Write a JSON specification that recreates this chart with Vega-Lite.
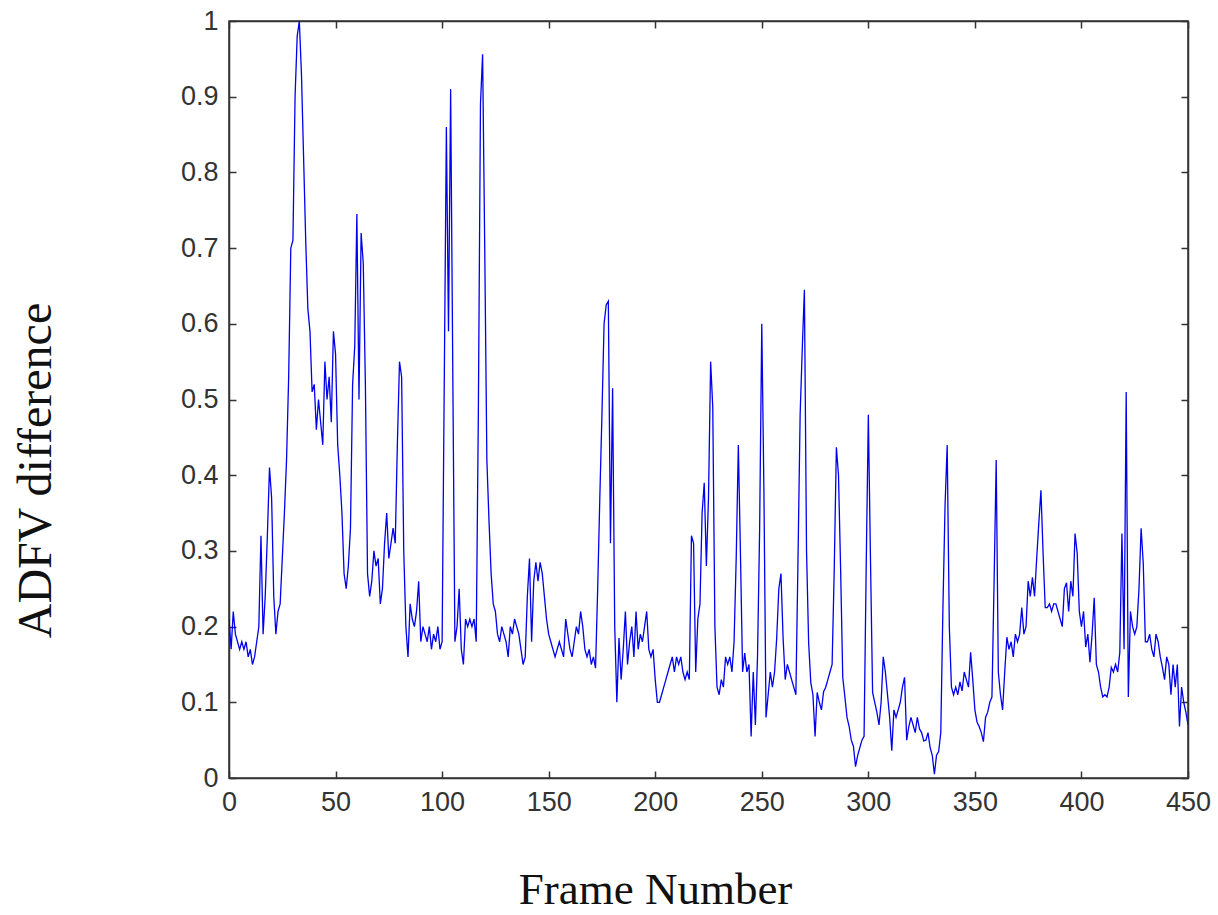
{
  "$schema": "https://vega.github.io/schema/vega-lite/v6.json",
  "width": 959,
  "height": 757,
  "autosize": "none",
  "padding": {"left": 229, "top": 21, "right": 30, "bottom": 137},
  "background": "white",
  "config": {
    "view": {"stroke": "#333333", "strokeWidth": 1.5},
    "axis": {
      "grid": false,
      "domainColor": "#333333",
      "domainWidth": 1.5,
      "tickColor": "#333333",
      "tickWidth": 1.5,
      "tickSize": -7,
      "labelFont": "Liberation Sans, Arial, sans-serif",
      "labelFontSize": 27,
      "labelColor": "#333333"
    }
  },
  "data": {
    "values": [
      {"f":0,"v":0.21},{"f":1,"v":0.17},{"f":2,"v":0.22},{"f":3,"v":0.19},{"f":4,"v":0.18},{"f":5,"v":0.17},{"f":6,"v":0.18},{"f":7,"v":0.17},{"f":8,"v":0.18},{"f":9,"v":0.16},
      {"f":10,"v":0.17},{"f":11,"v":0.15},{"f":12,"v":0.16},{"f":13,"v":0.18},{"f":14,"v":0.2},{"f":15,"v":0.32},{"f":16,"v":0.19},{"f":17,"v":0.24},{"f":18,"v":0.32},{"f":19,"v":0.41},
      {"f":20,"v":0.37},{"f":21,"v":0.24},{"f":22,"v":0.19},{"f":23,"v":0.22},{"f":24,"v":0.23},{"f":25,"v":0.29},{"f":26,"v":0.35},{"f":27,"v":0.42},{"f":28,"v":0.53},{"f":29,"v":0.7},
      {"f":30,"v":0.71},{"f":31,"v":0.9},{"f":32,"v":0.98},{"f":33,"v":1.0},{"f":34,"v":0.93},{"f":35,"v":0.82},{"f":36,"v":0.71},{"f":37,"v":0.62},{"f":38,"v":0.59},{"f":39,"v":0.51},
      {"f":40,"v":0.52},{"f":41,"v":0.46},{"f":42,"v":0.5},{"f":43,"v":0.47},{"f":44,"v":0.44},{"f":45,"v":0.55},{"f":46,"v":0.5},{"f":47,"v":0.53},{"f":48,"v":0.47},{"f":49,"v":0.59},
      {"f":50,"v":0.56},{"f":51,"v":0.44},{"f":52,"v":0.4},{"f":53,"v":0.35},{"f":54,"v":0.27},{"f":55,"v":0.25},{"f":56,"v":0.28},{"f":57,"v":0.33},{"f":58,"v":0.52},{"f":59,"v":0.57},
      {"f":60,"v":0.745},{"f":61,"v":0.5},{"f":62,"v":0.72},{"f":63,"v":0.68},{"f":64,"v":0.52},{"f":65,"v":0.27},{"f":66,"v":0.24},{"f":67,"v":0.26},{"f":68,"v":0.3},{"f":69,"v":0.28},
      {"f":70,"v":0.29},{"f":71,"v":0.23},{"f":72,"v":0.25},{"f":73,"v":0.31},{"f":74,"v":0.35},{"f":75,"v":0.29},{"f":76,"v":0.31},{"f":77,"v":0.33},{"f":78,"v":0.31},{"f":79,"v":0.44},
      {"f":80,"v":0.55},{"f":81,"v":0.53},{"f":82,"v":0.3},{"f":83,"v":0.2},{"f":84,"v":0.16},{"f":85,"v":0.23},{"f":86,"v":0.21},{"f":87,"v":0.2},{"f":88,"v":0.22},{"f":89,"v":0.26},
      {"f":90,"v":0.18},{"f":91,"v":0.2},{"f":92,"v":0.19},{"f":93,"v":0.18},{"f":94,"v":0.2},{"f":95,"v":0.17},{"f":96,"v":0.19},{"f":97,"v":0.18},{"f":98,"v":0.2},{"f":99,"v":0.17},
      {"f":100,"v":0.18},{"f":101,"v":0.52},{"f":102,"v":0.86},{"f":103,"v":0.59},{"f":104,"v":0.91},{"f":105,"v":0.54},{"f":106,"v":0.18},{"f":107,"v":0.2},{"f":108,"v":0.25},{"f":109,"v":0.17},
      {"f":110,"v":0.15},{"f":111,"v":0.21},{"f":112,"v":0.2},{"f":113,"v":0.21},{"f":114,"v":0.2},{"f":115,"v":0.21},{"f":116,"v":0.18},{"f":117,"v":0.48},{"f":118,"v":0.89},{"f":119,"v":0.956},
      {"f":120,"v":0.7},{"f":121,"v":0.42},{"f":122,"v":0.34},{"f":123,"v":0.27},{"f":124,"v":0.23},{"f":125,"v":0.22},{"f":126,"v":0.19},{"f":127,"v":0.18},{"f":128,"v":0.2},{"f":129,"v":0.19},
      {"f":130,"v":0.18},{"f":131,"v":0.16},{"f":132,"v":0.2},{"f":133,"v":0.19},{"f":134,"v":0.21},{"f":135,"v":0.2},{"f":136,"v":0.19},{"f":137,"v":0.17},{"f":138,"v":0.15},{"f":139,"v":0.16},
      {"f":140,"v":0.24},{"f":141,"v":0.29},{"f":142,"v":0.18},{"f":143,"v":0.26},{"f":144,"v":0.285},{"f":145,"v":0.26},{"f":146,"v":0.285},{"f":147,"v":0.27},{"f":148,"v":0.24},{"f":149,"v":0.21},
      {"f":150,"v":0.19},{"f":151,"v":0.18},{"f":152,"v":0.17},{"f":153,"v":0.16},{"f":154,"v":0.17},{"f":155,"v":0.18},{"f":156,"v":0.17},{"f":157,"v":0.16},{"f":158,"v":0.21},{"f":159,"v":0.19},
      {"f":160,"v":0.17},{"f":161,"v":0.16},{"f":162,"v":0.18},{"f":163,"v":0.2},{"f":164,"v":0.19},{"f":165,"v":0.22},{"f":166,"v":0.2},{"f":167,"v":0.17},{"f":168,"v":0.16},{"f":169,"v":0.17},
      {"f":170,"v":0.15},{"f":171,"v":0.16},{"f":172,"v":0.145},{"f":173,"v":0.25},{"f":174,"v":0.37},{"f":175,"v":0.48},{"f":176,"v":0.6},{"f":177,"v":0.625},{"f":178,"v":0.63},{"f":179,"v":0.31},
      {"f":180,"v":0.515},{"f":181,"v":0.2},{"f":182,"v":0.1},{"f":183,"v":0.185},{"f":184,"v":0.13},{"f":185,"v":0.17},{"f":186,"v":0.22},{"f":187,"v":0.15},{"f":188,"v":0.18},{"f":189,"v":0.2},
      {"f":190,"v":0.16},{"f":191,"v":0.22},{"f":192,"v":0.17},{"f":193,"v":0.19},{"f":194,"v":0.18},{"f":195,"v":0.2},{"f":196,"v":0.22},{"f":197,"v":0.17},{"f":198,"v":0.16},{"f":199,"v":0.17},
      {"f":200,"v":0.13},{"f":201,"v":0.1},{"f":202,"v":0.1},{"f":203,"v":0.11},{"f":204,"v":0.12},{"f":205,"v":0.13},{"f":206,"v":0.14},{"f":207,"v":0.15},{"f":208,"v":0.16},{"f":209,"v":0.14},
      {"f":210,"v":0.16},{"f":211,"v":0.15},{"f":212,"v":0.16},{"f":213,"v":0.14},{"f":214,"v":0.13},{"f":215,"v":0.14},{"f":216,"v":0.13},{"f":217,"v":0.32},{"f":218,"v":0.31},{"f":219,"v":0.14},
      {"f":220,"v":0.21},{"f":221,"v":0.23},{"f":222,"v":0.35},{"f":223,"v":0.39},{"f":224,"v":0.28},{"f":225,"v":0.37},{"f":226,"v":0.55},{"f":227,"v":0.49},{"f":228,"v":0.2},{"f":229,"v":0.12},
      {"f":230,"v":0.11},{"f":231,"v":0.13},{"f":232,"v":0.12},{"f":233,"v":0.16},{"f":234,"v":0.15},{"f":235,"v":0.16},{"f":236,"v":0.14},{"f":237,"v":0.18},{"f":238,"v":0.29},{"f":239,"v":0.44},
      {"f":240,"v":0.295},{"f":241,"v":0.14},{"f":242,"v":0.165},{"f":243,"v":0.14},{"f":244,"v":0.15},{"f":245,"v":0.055},{"f":246,"v":0.14},{"f":247,"v":0.07},{"f":248,"v":0.16},{"f":249,"v":0.33},
      {"f":250,"v":0.6},{"f":251,"v":0.38},{"f":252,"v":0.08},{"f":253,"v":0.11},{"f":254,"v":0.14},{"f":255,"v":0.12},{"f":256,"v":0.14},{"f":257,"v":0.185},{"f":258,"v":0.25},{"f":259,"v":0.27},
      {"f":260,"v":0.185},{"f":261,"v":0.13},{"f":262,"v":0.15},{"f":263,"v":0.14},{"f":264,"v":0.13},{"f":265,"v":0.12},{"f":266,"v":0.11},{"f":267,"v":0.29},{"f":268,"v":0.48},{"f":269,"v":0.567},
      {"f":270,"v":0.645},{"f":271,"v":0.3},{"f":272,"v":0.178},{"f":273,"v":0.126},{"f":274,"v":0.11},{"f":275,"v":0.055},{"f":276,"v":0.113},{"f":277,"v":0.1},{"f":278,"v":0.09},{"f":279,"v":0.114},
      {"f":280,"v":0.12},{"f":281,"v":0.13},{"f":282,"v":0.14},{"f":283,"v":0.15},{"f":284,"v":0.275},{"f":285,"v":0.437},{"f":286,"v":0.4},{"f":287,"v":0.275},{"f":288,"v":0.133},{"f":289,"v":0.107},
      {"f":290,"v":0.08},{"f":291,"v":0.068},{"f":292,"v":0.05},{"f":293,"v":0.042},{"f":294,"v":0.015},{"f":295,"v":0.03},{"f":296,"v":0.04},{"f":297,"v":0.05},{"f":298,"v":0.055},{"f":299,"v":0.28},
      {"f":300,"v":0.48},{"f":301,"v":0.29},{"f":302,"v":0.113},{"f":303,"v":0.1},{"f":304,"v":0.087},{"f":305,"v":0.07},{"f":306,"v":0.1},{"f":307,"v":0.16},{"f":308,"v":0.14},{"f":309,"v":0.11},
      {"f":310,"v":0.08},{"f":311,"v":0.036},{"f":312,"v":0.09},{"f":313,"v":0.08},{"f":314,"v":0.09},{"f":315,"v":0.1},{"f":316,"v":0.12},{"f":317,"v":0.133},{"f":318,"v":0.05},{"f":319,"v":0.068},
      {"f":320,"v":0.08},{"f":321,"v":0.07},{"f":322,"v":0.06},{"f":323,"v":0.08},{"f":324,"v":0.065},{"f":325,"v":0.06},{"f":326,"v":0.049},{"f":327,"v":0.05},{"f":328,"v":0.06},{"f":329,"v":0.04},
      {"f":330,"v":0.03},{"f":331,"v":0.005},{"f":332,"v":0.03},{"f":333,"v":0.035},{"f":334,"v":0.06},{"f":335,"v":0.225},{"f":336,"v":0.36},{"f":337,"v":0.44},{"f":338,"v":0.2},{"f":339,"v":0.12},
      {"f":340,"v":0.11},{"f":341,"v":0.12},{"f":342,"v":0.11},{"f":343,"v":0.127},{"f":344,"v":0.115},{"f":345,"v":0.14},{"f":346,"v":0.13},{"f":347,"v":0.12},{"f":348,"v":0.166},{"f":349,"v":0.13},
      {"f":350,"v":0.09},{"f":351,"v":0.074},{"f":352,"v":0.068},{"f":353,"v":0.06},{"f":354,"v":0.048},{"f":355,"v":0.08},{"f":356,"v":0.087},{"f":357,"v":0.1},{"f":358,"v":0.107},{"f":359,"v":0.258},
      {"f":360,"v":0.42},{"f":361,"v":0.14},{"f":362,"v":0.11},{"f":363,"v":0.09},{"f":364,"v":0.14},{"f":365,"v":0.186},{"f":366,"v":0.17},{"f":367,"v":0.18},{"f":368,"v":0.16},{"f":369,"v":0.19},
      {"f":370,"v":0.18},{"f":371,"v":0.19},{"f":372,"v":0.225},{"f":373,"v":0.19},{"f":374,"v":0.2},{"f":375,"v":0.26},{"f":376,"v":0.24},{"f":377,"v":0.265},{"f":378,"v":0.24},{"f":379,"v":0.29},
      {"f":380,"v":0.337},{"f":381,"v":0.38},{"f":382,"v":0.297},{"f":383,"v":0.225},{"f":384,"v":0.225},{"f":385,"v":0.23},{"f":386,"v":0.22},{"f":387,"v":0.23},{"f":388,"v":0.23},{"f":389,"v":0.22},
      {"f":390,"v":0.21},{"f":391,"v":0.2},{"f":392,"v":0.25},{"f":393,"v":0.258},{"f":394,"v":0.22},{"f":395,"v":0.26},{"f":396,"v":0.24},{"f":397,"v":0.323},{"f":398,"v":0.297},{"f":399,"v":0.22},
      {"f":400,"v":0.2},{"f":401,"v":0.22},{"f":402,"v":0.173},{"f":403,"v":0.19},{"f":404,"v":0.153},{"f":405,"v":0.19},{"f":406,"v":0.238},{"f":407,"v":0.15},{"f":408,"v":0.14},{"f":409,"v":0.12},
      {"f":410,"v":0.107},{"f":411,"v":0.11},{"f":412,"v":0.107},{"f":413,"v":0.12},{"f":414,"v":0.146},{"f":415,"v":0.14},{"f":416,"v":0.15},{"f":417,"v":0.14},{"f":418,"v":0.166},{"f":419,"v":0.323},
      {"f":420,"v":0.17},{"f":421,"v":0.51},{"f":422,"v":0.107},{"f":423,"v":0.22},{"f":424,"v":0.2},{"f":425,"v":0.19},{"f":426,"v":0.2},{"f":427,"v":0.25},{"f":428,"v":0.33},{"f":429,"v":0.284},
      {"f":430,"v":0.18},{"f":431,"v":0.18},{"f":432,"v":0.19},{"f":433,"v":0.17},{"f":434,"v":0.16},{"f":435,"v":0.19},{"f":436,"v":0.18},{"f":437,"v":0.16},{"f":438,"v":0.146},{"f":439,"v":0.13},
      {"f":440,"v":0.16},{"f":441,"v":0.15},{"f":442,"v":0.11},{"f":443,"v":0.15},{"f":444,"v":0.12},{"f":445,"v":0.15},{"f":446,"v":0.068},{"f":447,"v":0.12},{"f":448,"v":0.1},{"f":449,"v":0.087},
      {"f":450,"v":0.07}
    ]
  },
  "layer": [
    {
      "mark": {"type": "line", "color": "#0000EE", "strokeWidth": 1.3, "clip": true},
      "encoding": {
        "x": {
          "field": "f", "type": "quantitative",
          "scale": {"domain": [0, 450], "nice": false, "zero": false},
          "axis": {
            "orient": "bottom",
            "values": [0, 50, 100, 150, 200, 250, 300, 350, 400, 450],
            "labelPadding": 18,
            "labelFlush": false,
            "title": "Frame Number",
            "titleFont": "Liberation Serif, Times New Roman, serif",
            "titleFontSize": 45,
            "titleFontWeight": "normal",
            "titleColor": "#111111",
            "titlePadding": 52,
            "titleX": 426
          }
        },
        "y": {
          "field": "v", "type": "quantitative",
          "scale": {"domain": [0, 1], "nice": false},
          "axis": {
            "orient": "left",
            "values": [0, 0.1, 0.2, 0.3, 0.4, 0.5, 0.6, 0.7, 0.8, 0.9, 1],
            "format": "~g",
            "labelPadding": 18,
            "labelFlush": false,
            "title": "ADFV difference",
            "titleFont": "Liberation Serif, Times New Roman, serif",
            "titleFontSize": 48,
            "titleFontWeight": "normal",
            "titleColor": "#111111",
            "titlePadding": 120,
            "titleY": 449
          }
        }
      }
    },
    {
      "mark": {"type": "line", "opacity": 0},
      "encoding": {
        "x": {
          "field": "f", "type": "quantitative",
          "axis": {
            "orient": "top",
            "values": [0, 50, 100, 150, 200, 250, 300, 350, 400, 450],
            "labels": false,
            "title": null
          }
        },
        "y": {
          "field": "v", "type": "quantitative",
          "axis": {
            "orient": "right",
            "values": [0, 0.1, 0.2, 0.3, 0.4, 0.5, 0.6, 0.7, 0.8, 0.9, 1],
            "labels": false,
            "title": null
          }
        }
      }
    }
  ],
  "resolve": {"axis": {"x": "independent", "y": "independent"}}
}
